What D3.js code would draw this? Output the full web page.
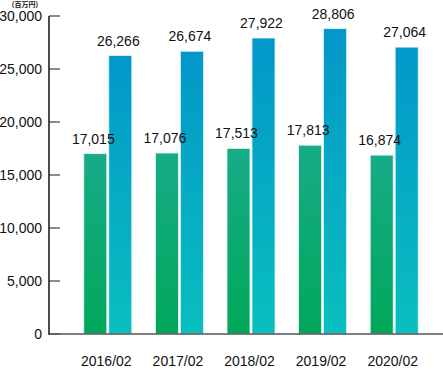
<!DOCTYPE html>
<html><head><meta charset="utf-8">
<script src="https://cdn.jsdelivr.net/npm/d3@7"></script>
<style>body{margin:0;background:#fff}svg{display:block}text{font-family:"Liberation Sans",Arial,sans-serif;fill:#111}</style>
</head><body><svg id="c" width="443" height="369"></svg>
<script>
const categories = ["2016/02","2017/02","2018/02","2019/02","2020/02"];
const seriesA = [17015,17076,17513,17813,16874];
const seriesB = [26266,26674,27922,28806,27064];
const yTicks = [0,5000,10000,15000,20000,25000,30000];
const unitLabel = "(百万円)";

const svg = d3.select("#c");
const y = d3.scaleLinear().domain([0,30000]).range([334,16]);
const x = d3.scaleBand().domain(categories).range([72,430]).padding(0);
const fmt = d3.format(",");
const bw = 23;

const defs = svg.append("defs");
const gA = defs.append("linearGradient").attr("id","gA").attr("x1",0).attr("y1",0).attr("x2",0).attr("y2",1);
gA.append("stop").attr("offset","0%").attr("stop-color","#17ab88");
gA.append("stop").attr("offset","100%").attr("stop-color","#00a85a");
const gB = defs.append("linearGradient").attr("id","gB").attr("x1",0).attr("y1",0).attr("x2",0).attr("y2",1);
gB.append("stop").attr("offset","0%").attr("stop-color","#0297c9");
gB.append("stop").attr("offset","100%").attr("stop-color","#09bfbe");

// axis
const ax = svg.append("g").attr("transform","translate(49,0)")
  .call(d3.axisLeft(y).tickValues(yTicks).tickSize(0).tickPadding(7).tickFormat(fmt));
ax.select(".domain").remove();
ax.selectAll("text").style("font-size","14px").attr("fill","#111").attr("dy","0.35em");
svg.append("g").selectAll("line").data(yTicks).join("line")
  .attr("x1",49).attr("x2",60).attr("y1",d=>y(d)).attr("y2",d=>y(d))
  .attr("stroke","#666").attr("stroke-width",1.5);

// bars
const cx = c => x(c)+x.bandwidth()/2;
svg.append("g").selectAll("rect").data(categories).join("rect")
  .attr("x",c=>cx(c)-bw-1).attr("width",bw)
  .attr("y",(c,i)=>y(seriesA[i])).attr("height",(c,i)=>y(0)-y(seriesA[i]))
  .attr("fill","url(#gA)").attr("stroke","#e6f6ee").attr("stroke-width",0.8);
svg.append("g").selectAll("rect").data(categories).join("rect")
  .attr("x",c=>cx(c)+1).attr("width",bw)
  .attr("y",(c,i)=>y(seriesB[i])).attr("height",(c,i)=>y(0)-y(seriesB[i]))
  .attr("fill","url(#gB)").attr("stroke","#d8f2f8").attr("stroke-width",0.8);

// axes lines
svg.append("line").attr("x1",49).attr("x2",443).attr("y1",y(0)).attr("y2",y(0)).attr("stroke","#555").attr("stroke-width",1.5);
svg.append("line").attr("x1",49).attr("x2",49).attr("y1",16).attr("y2",y(0)+0.75).attr("stroke","#111").attr("stroke-width",1.5);

// value labels
svg.append("g").selectAll("text").data(categories).join("text")
  .attr("x",c=>cx(c)-bw/2-3).attr("y",(c,i)=>y(seriesA[i])-10)
  .attr("text-anchor","middle").style("font-size","14px").text((c,i)=>fmt(seriesA[i]));
svg.append("g").selectAll("text").data(categories).join("text")
  .attr("x",c=>cx(c)+bw/2-1).attr("y",(c,i)=>y(seriesB[i])-10)
  .attr("text-anchor","middle").style("font-size","14px").text((c,i)=>fmt(seriesB[i]));

// category labels
svg.append("g").selectAll("text").data(categories).join("text")
  .attr("x",c=>cx(c)-1.5).attr("y",366)
  .attr("text-anchor","middle").style("font-size","14px").text(c=>c);

svg.append("text").attr("x",25).attr("y",7).attr("text-anchor","middle")
  .style("font-size","7px").style("font-family","'Noto Sans CJK JP',sans-serif").style("font-weight","bold").text(unitLabel);
</script></body></html>
